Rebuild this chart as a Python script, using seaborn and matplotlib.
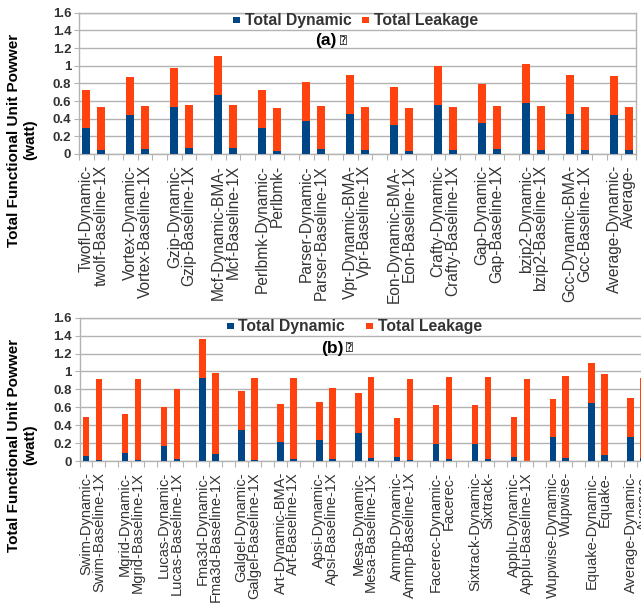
import matplotlib
matplotlib.use("Agg")
import matplotlib.pyplot as plt
import matplotlib.transforms as mtransforms
import numpy as np
import pandas as pd
import seaborn as sns
from matplotlib.patches import Rectangle

# ---------------- data ----------------
# Panel (a)
dyn_labels_a = ["Twofl-Dynamic-", "Vortex-Dynamic-", "Gzip-Dynamic-", "Mcf-Dynamic-BMA-",
                "Perlbmk-Dynamic-", "Parser-Dynamic-", "Vpr-Dynamic-BMA-", "Eon-Dynamic-BMA-",
                "Crafty-Dynamic-", "Gap-Dynamic-", "bzip2-Dynamic-", "Gcc-Dynamic-BMA-",
                "Average-Dynamic-"]
base_labels_a = ["twolf-Baseline-1X", "Vortex-Baseline-1X", "Gzip-Baseline-1X", "Mcf-Baseline-1X",
                 "Perlbmk-", "Parser-Baseline-1X", "Vpr-Baseline-1X", "Eon-Baseline-1X",
                 "Crafty-Baseline-1X", "Gap-Baseline-1X", "bzip2-Baseline-1X", "Gcc-Baseline-1X",
                 "Average-"]
a_dynbar_dynamic = [0.30, 0.44, 0.535, 0.67, 0.30, 0.375, 0.455, 0.33, 0.56, 0.35, 0.575, 0.455, 0.445]
a_dynbar_leakage = [0.43, 0.43, 0.44, 0.44, 0.43, 0.44, 0.435, 0.43, 0.44, 0.44, 0.44, 0.44, 0.44]
a_basebar_dynamic = [0.05, 0.053, 0.064, 0.072, 0.03, 0.053, 0.049, 0.038, 0.049, 0.053, 0.049, 0.049, 0.049]
a_basebar_leakage = [0.485, 0.494, 0.487, 0.486, 0.495, 0.49, 0.487, 0.487, 0.487, 0.49, 0.494, 0.487, 0.487]

# Panel (b)
dyn_labels_b = ["Swim-Dynamic-", "Mgrid-Dynamic-", "Lucas-Dynamic-", "Fma3d-Dynamic-",
                "Galgel-Dynamic-", "Art-Dynamic-BMA-", "Apsi-Dynamic-", "Mesa-Dynamic-",
                "Ammp-Dynamic-", "Facerec-Dynamic-", "Sixtrack-Dynamic-", "Applu-Dynamic-",
                "Wupwise-Dynamic-", "Equake-Dynamic-", "Average-Dynamic-"]
base_labels_b = ["Swim-Baseline-1X", "Mgrid-Baseline-1X", "Lucas-Baseline-1X", "Fma3d-Baseline-1X",
                 "Galgel-Baseline-1X", "Art-Baseline-1X", "Apsi-Baseline-1X", "Mesa-Baseline-1X",
                 "Ammp-Baseline-1X", "Facerec-", "Sixtrack-", "Applu-Baseline-1X",
                 "Wupwise-", "Equake-", "Average-"]
b_dynbar_dynamic = [0.06, 0.089, 0.167, 0.927, 0.35, 0.212, 0.231, 0.316, 0.045, 0.19, 0.19, 0.048, 0.268, 0.651, 0.268]
b_dynbar_leakage = [0.427, 0.432, 0.44, 0.435, 0.428, 0.428, 0.431, 0.439, 0.431, 0.435, 0.439, 0.439, 0.428, 0.443, 0.435]
b_basebar_dynamic = [0.007, 0.011, 0.026, 0.082, 0.015, 0.026, 0.026, 0.037, 0.007, 0.022, 0.022, 0.004, 0.037, 0.071, 0.03]
b_basebar_leakage = [0.905, 0.901, 0.778, 0.90, 0.908, 0.904, 0.785, 0.904, 0.905, 0.916, 0.916, 0.911, 0.912, 0.90, 0.893]

series_names = ["Total Dynamic", "Total Leakage"]
y_ticks = [0, 0.2, 0.4, 0.6, 0.8, 1.0, 1.2, 1.4, 1.6]
y_tick_labels = ["0", "0.2", "0.4", "0.6", "0.8", "1", "1.2", "1.4", "1.6"]
panel_tags = ["(a)", "(b)"]
y_title = ["Total Functional Unit Powwer", "(watt)"]

# ---------------- style ----------------
BLUE = "#004586"
ORANGE = "#ff420e"
GRID = "#b3b3b3"
TXT = "#333333"
W, H = 641, 609
sns.set_theme(style="white")
plt.rcParams["font.family"] = ["Liberation Sans", "DejaVu Sans"]

fig = plt.figure(figsize=(W / 100, H / 100), dpi=100)


def fx(x):
    return x / W


def fy(y):
    return 1 - y / H


def build_df(dl, bl, dd, dlk, bd, blk):
    rows = []
    for i in range(len(dl)):
        rows.append(dict(pos=3 * i, label=dl[i], dynamic=dd[i], leakage=dlk[i]))
        rows.append(dict(pos=3 * i + 1, label=bl[i], dynamic=bd[i], leakage=blk[i]))
    df = pd.DataFrame(rows)
    df["total"] = df["dynamic"] + df["leakage"]
    return df


def draw_panel(rect_px, df, n_groups, bar_w, label_size):
    left, top, right, bottom = rect_px
    ax = fig.add_axes([fx(left), fy(bottom), (right - left) / W, (bottom - top) / H])
    sns.barplot(data=df, x="pos", y="total", native_scale=True, color=ORANGE,
                saturation=1, width=bar_w, errorbar=None, edgecolor="none", ax=ax, zorder=2)
    sns.barplot(data=df, x="pos", y="dynamic", native_scale=True, color=BLUE,
                saturation=1, width=bar_w, errorbar=None, edgecolor="none", ax=ax, zorder=3)
    ax.set_xlim(-0.5, 3 * n_groups - 1.5)
    ax.set_ylim(0, 1.6)
    ax.set_yticks(y_ticks)
    ax.set_yticklabels(y_tick_labels, fontsize=9.5, fontweight="bold", color=TXT)
    ax.set_xticks(df["pos"].values)
    labels = ax.set_xticklabels(df["label"].values, rotation=90, ha="center", va="top",
                                fontsize=label_size, color=TXT)
    shift = mtransforms.ScaledTranslation(2 / 100, 0, fig.dpi_scale_trans)
    for lab in labels:
        lab.set_transform(lab.get_transform() + shift)
    ax.set_xticks(np.arange(-0.5, 3 * n_groups - 1.0, 1.0), minor=True)
    ax.tick_params(axis="x", which="major", length=0, pad=8)
    ax.tick_params(axis="x", which="minor", length=4, color=GRID, width=0.8, direction="out", bottom=True)
    ax.tick_params(axis="y", length=3.5, color=GRID, width=0.8, direction="out", left=True, pad=2)
    ax.set_xlabel("")
    ax.set_ylabel("")
    ax.grid(axis="y", color=GRID, linewidth=1.0, zorder=0)
    ax.set_axisbelow(True)
    for s in ax.spines.values():
        s.set_visible(True)
        s.set_color(GRID)
        s.set_linewidth(1.0)
    return ax


df_a = build_df(dyn_labels_a, base_labels_a, a_dynbar_dynamic, a_dynbar_leakage,
                a_basebar_dynamic, a_basebar_leakage)
df_b = build_df(dyn_labels_b, base_labels_b, b_dynbar_dynamic, b_dynbar_leakage,
                b_basebar_dynamic, b_basebar_leakage)

ax_a = draw_panel((79, 12.7, 636, 154), df_a, len(dyn_labels_a), 0.54, 11.2)
ax_b = draw_panel((79.5, 317.7, 650, 461), df_b, len(dyn_labels_b), 0.5, 10.5)


def legend(y, x_dyn, x_leak):
    s = 6.5
    for x0, col, name in [(x_dyn, BLUE, series_names[0]), (x_leak, ORANGE, series_names[1])]:
        fig.patches.append(Rectangle((fx(x0), fy(y + s / 2)), s / W, s / H,
                                     transform=fig.transFigure, facecolor=col, edgecolor="none"))
        fig.text(fx(x0 + s + 5), fy(y), name, fontsize=11.3, fontweight="bold", color=TXT,
                 ha="left", va="center")


legend(20, 233, 362)
legend(326, 227, 366)


def tag(x, y, t):
    fig.text(fx(x), fy(y), t, fontsize=12.5, fontweight="bold", color="black",
             ha="left", va="center")
    fig.text(fx(x + 25), fy(y), "\u2370", fontsize=8, color="black", ha="left", va="center",
             family=["DejaVu Sans", "DejaVu Sans Mono"])


tag(315, 41, panel_tags[0])
tag(321, 348, panel_tags[1])


def ylabel(yc):
    fig.text(fx(14.5), fy(yc), y_title[0], rotation=90, fontsize=11,
             fontweight="bold", color="black", ha="center", va="center")
    fig.text(fx(30.5), fy(yc), y_title[1], rotation=90, fontsize=11,
             fontweight="bold", color="black", ha="center", va="center")


ylabel(140)
ylabel(445)

fig.savefig("out.png", dpi=100)
